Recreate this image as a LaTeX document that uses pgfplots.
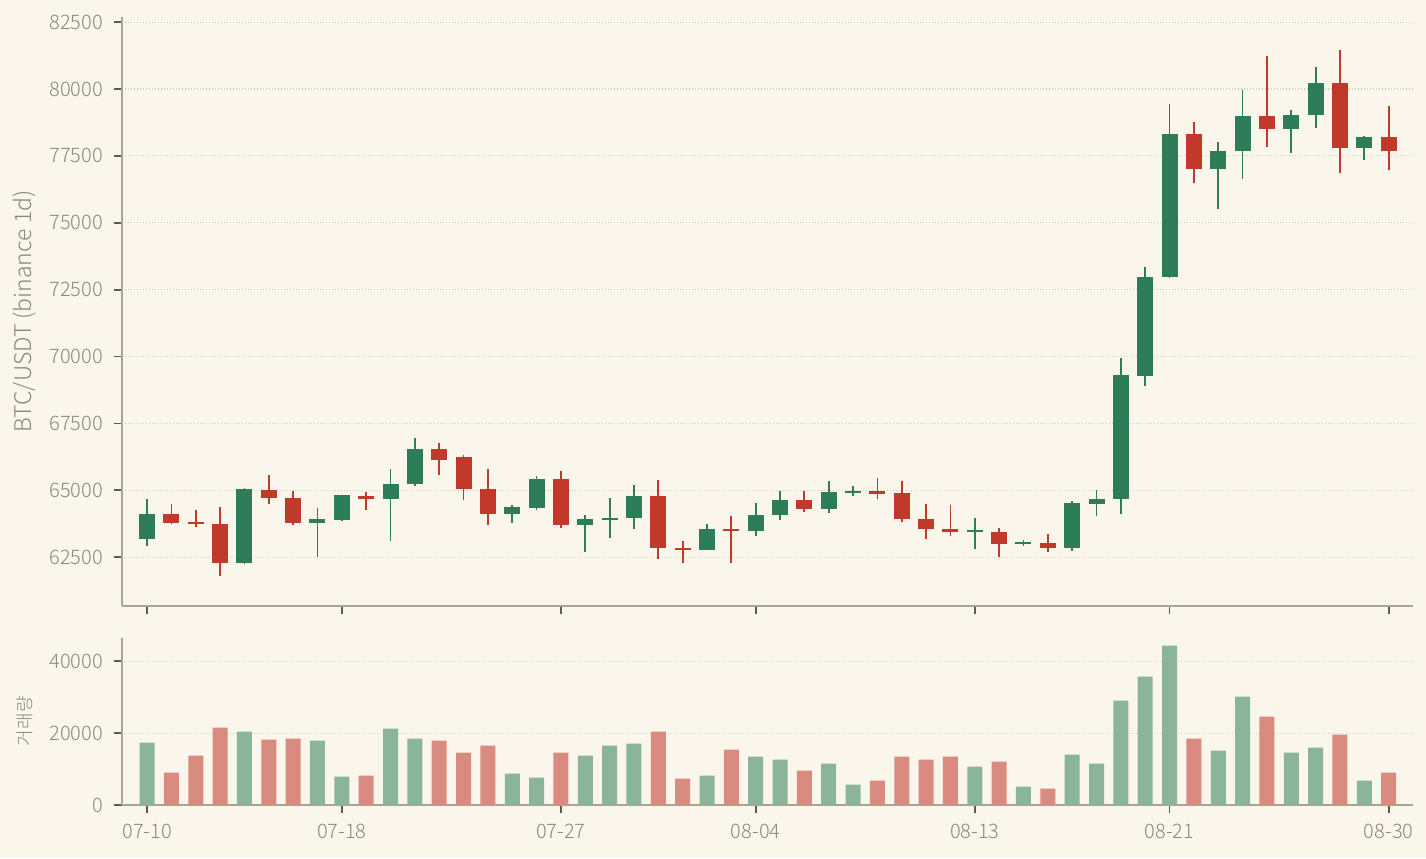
\documentclass[border=0pt]{standalone}
\usepackage{pgfplots}
\pgfplotsset{compat=1.18}
\usepackage{pgfplotstable}
\usepackage{fontspec}
\IfFontExistsTF{Noto Sans CJK KR Light}{\setmainfont{Noto Sans CJK KR Light}}{\setmainfont{Noto Sans CJK KR}}

\definecolor{bg}{HTML}{FAF6EB}
\definecolor{cup}{HTML}{2E7D5A}
\definecolor{cdown}{HTML}{C0392B}
\definecolor{vup}{HTML}{8AB59A}
\definecolor{vdown}{HTML}{D98B80}
\definecolor{gridc}{HTML}{CFCBBF}
\definecolor{spinec}{HTML}{A9A595}
\definecolor{tickc}{HTML}{5C5A52}
\definecolor{labc}{HTML}{8A877C}

% index open high low close volume
\pgfplotstableread{
x o h l c v
0 63190 64690 62900 64130 17350
4 62290 65090 62250 65030 20420
7 63790 64340 62500 63910 17910
8 63880 64840 63850 64810 7890
10 64680 65780 63090 65250 21250
11 65250 66940 65150 66560 18470
15 64120 64440 63790 64360 8720
16 64340 65540 64270 65410 7610
18 63700 64080 62710 63910 13730
19 63900 64710 63220 63980 16520
20 63960 65180 63560 64780 17080
23 62780 63740 62750 63540 8170
25 63490 64540 63310 64090 13460
26 64080 64980 63880 64650 12620
28 64300 65350 64140 64930 11510
29 64900 65160 64780 64980 5660
34 63450 63960 62790 63490 10670
36 62990 63150 62900 63060 5100
38 62840 64590 62720 64530 14010
39 64490 65000 64030 64690 11510
40 64680 69950 64120 69300 29050
41 69290 73340 68890 72960 35730
42 72960 79440 72950 78300 44360
44 77020 78010 75510 77700 15130
45 77700 79960 76640 78980 30160
47 78510 79220 77610 79010 14570
48 79010 80830 78540 80210 15960
50 77800 78260 77330 78200 6770
}\up

\pgfplotstableread{
x o h l c v
1 64130 64500 63750 63780 9000
2 63800 64250 63620 63750 13730
3 63750 64380 61810 62290 21530
5 65030 65590 64480 64730 18190
6 64730 64980 63710 63780 18470
9 64800 64940 64250 64680 8170
12 66560 66750 65560 66120 17910
13 66230 66310 64620 65050 14570
14 65060 65810 63720 64110 16520
17 65410 65720 63580 63700 14570
21 64780 65400 62450 62850 20420
22 62860 63110 62280 62780 7330
24 63540 64040 62280 63480 15400
27 64650 64980 64180 64300 9560
30 64960 65460 64690 64860 6770
31 64890 65350 63800 63930 13460
32 63940 64500 63190 63550 12620
33 63570 64450 63280 63440 13460
35 63430 63590 62520 62990 12060
37 63040 63360 62680 62840 4550
43 78300 78780 76490 77020 18470
46 78980 81240 77830 78510 24590
49 80210 81460 76860 77800 19580
51 78200 79380 76980 77670 9000
}\down

\pgfplotsset{
  panel/.style={
    scale only axis,
    width=645.5pt,
    xmin=-1.03, xmax=52,
    axis x line*=bottom,
    axis y line*=left,
    axis line style={draw=spinec, line width=0.75pt},
    tick align=outside,
    major tick length=4pt,
    major tick style={draw=tickc, line width=0.9pt},
    xtick={0,8,17,25,34,42,51},
    ymajorgrids,
    major grid style={draw=gridc, line width=0.55pt, dash pattern=on 0.5pt off 1pt},
    tick label style={font=\fontsize{10}{12}\selectfont, text=labc},
    yticklabel style={xshift=-2pt},
    xticklabel style={yshift=-2pt},
    label style={text=labc},
    scaled y ticks=false,
    /pgf/number format/.cd, 1000 sep={}, assume math mode=true,
  },
  wick/.style={draw=none, mark=none, forget plot,
    error bars/.cd, y dir=both, y explicit, error mark=none,
    error bar style={draw=#1, line width=0.9pt}},
  body/.style={draw=none, mark=none, forget plot,
    error bars/.cd, y dir=both, y explicit, error mark=none,
    error bar style={draw=#1, line width=8pt}},
}

\begin{document}
\begin{tikzpicture}
\useasboundingbox (0,0) rectangle (713pt,429pt);
\fill[bg] (0,0) rectangle (713pt,429pt);

\begin{axis}[panel,
  at={(61pt,126pt)}, anchor=south west,
  height=294.5pt,
  ymin=60675, ymax=82690,
  ytick={62500,65000,...,82500},
  xticklabels={},
  ylabel={BTC/USDT (binance 1d)},
  ylabel style={at={(axis description cs:-0.0759,0.5)}, anchor=center, font=\fontsize{11.5}{13}\selectfont},
]
\addplot[wick=cup] table[x=x, y expr={(\thisrow{h}+\thisrow{l})/2}, y error expr={(\thisrow{h}-\thisrow{l})/2}] {\up};
\addplot[wick=cdown] table[x=x, y expr={(\thisrow{h}+\thisrow{l})/2}, y error expr={(\thisrow{h}-\thisrow{l})/2}] {\down};
\addplot[body=cup] table[x=x, y expr={(\thisrow{o}+\thisrow{c})/2}, y error expr={max(abs(\thisrow{c}-\thisrow{o})/2,40)}] {\up};
\addplot[body=cdown] table[x=x, y expr={(\thisrow{o}+\thisrow{c})/2}, y error expr={max(abs(\thisrow{c}-\thisrow{o})/2,40)}] {\down};
\end{axis}

\begin{axis}[panel,
  at={(61pt,26.5pt)}, anchor=south west,
  height=83.75pt,
  ymin=0, ymax=46600,
  ytick={0,20000,40000},
  xticklabels={07-10,07-18,07-27,08-04,08-13,08-21,08-30},
  ylabel={거래량},
  ylabel style={at={(axis description cs:-0.0751,0.5)}, anchor=center, font=\fontsize{9}{11}\selectfont},
]
\addplot[ybar, bar width=7.5pt, bar shift=0pt, fill=vup, draw=none] table[x=x, y=v] {\up};
\addplot[ybar, bar width=7.5pt, bar shift=0pt, fill=vdown, draw=none] table[x=x, y=v] {\down};
\end{axis}
\end{tikzpicture}
\end{document}
